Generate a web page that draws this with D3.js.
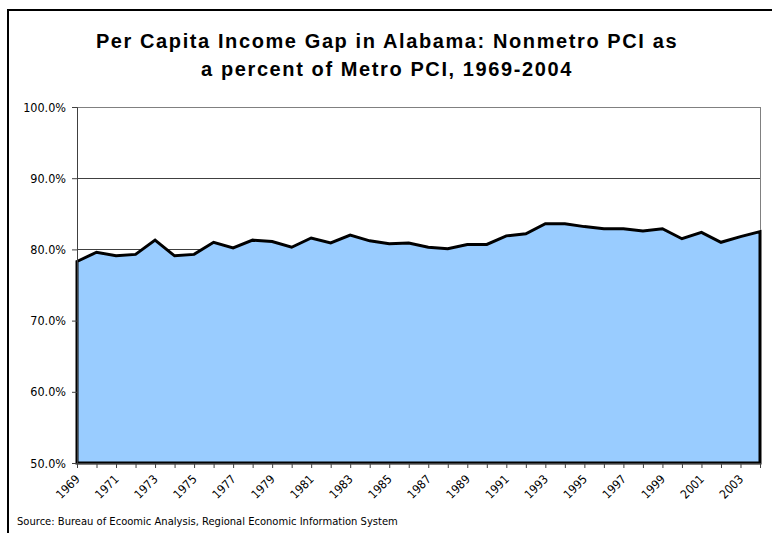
<!DOCTYPE html>
<html><head><meta charset="utf-8">
<script src="https://cdn.jsdelivr.net/npm/d3@7"></script>
<style>body{margin:0;background:#fff;} svg{display:block;}</style>
</head><body>
<svg id="c" width="772" height="533"></svg>
<script>
const years = d3.range(1969, 2005);
const values = [78.3,79.6,79.1,79.3,81.3,79.1,79.3,81.0,80.2,81.3,81.1,80.3,
81.6,80.9,82.0,81.2,80.8,80.9,80.3,80.1,80.7,80.7,81.9,82.2,
83.6,83.6,83.2,82.9,82.9,82.6,82.9,81.5,82.4,81.0,81.8,82.5];
const yTicks = [50,60,70,80,90,100];
const xLabelYears = years.filter((y,i)=>i%2===0);
const titleLines = ["Per Capita Income Gap in Alabama: Nonmetro PCI as","a percent of Metro PCI, 1969-2004"];
const sourceText = "Source: Bureau of Ecoomic Analysis, Regional Economic Information System";

const svg = d3.select("#c");
const L=77, R=760, T=107, B=463;
const x = d3.scalePoint().domain(years).range([L,R]);
const y = d3.scaleLinear().domain([50,100]).range([B,T]);
const tickFont = "Tahoma, 'DejaVu Sans Condensed', 'DejaVu Sans', sans-serif";

svg.append("rect").attr("x",8).attr("y",10).attr("width",780).attr("height",540)
  .attr("fill","#fff").attr("stroke","#000").attr("stroke-width",2);

svg.append("g").selectAll("text").data(titleLines).join("text")
  .attr("x",387).attr("y",(d,i)=>48+i*28).attr("text-anchor","middle")
  .attr("font-family","'Liberation Sans', Arial, sans-serif").attr("font-weight","bold")
  .attr("font-size",20).attr("letter-spacing",1.6).attr("fill","#000").text(d=>d);

// gridlines
svg.append("g").selectAll("line").data(yTicks.filter(v=>v>50&&v<100)).join("line")
  .attr("x1",L).attr("x2",R).attr("y1",d=>Math.round(y(d))+0.5).attr("y2",d=>Math.round(y(d))+0.5)
  .attr("stroke","#404040").attr("stroke-width",1);

// plot border
svg.append("rect").attr("x",L+0.5).attr("y",T+0.5).attr("width",R-L).attr("height",B-T)
  .attr("fill","none").attr("stroke","#808080").attr("stroke-width",1);

// area
const area = d3.area().x((d,i)=>x(years[i])).y0(y(50)).y1(d=>y(d));
svg.append("path").attr("d", area(values)+"Z")
  .attr("fill","#99CCFF").attr("stroke","#000").attr("stroke-width",3).attr("stroke-linejoin","miter");

// y axis
const ya = svg.append("g").attr("transform",`translate(${L},0)`)
  .call(d3.axisLeft(y).tickValues(yTicks).tickSize(5).tickPadding(6).tickFormat(d=>d.toFixed(1)+"%"));
ya.select(".domain").attr("stroke","#404040");
ya.selectAll(".tick line").attr("stroke","#404040");
ya.selectAll("text").attr("font-family",tickFont).attr("font-size",12.5).attr("fill","#000");

// x axis
const xa = svg.append("g").attr("transform",`translate(0,${B})`)
  .call(d3.axisBottom(x).tickValues(years).tickSize(5).tickFormat(d=>xLabelYears.includes(d)?String(d):""));
xa.select(".domain").attr("stroke","#404040");
xa.selectAll(".tick line").attr("stroke","#404040");
xa.selectAll("text").attr("font-family",tickFont).attr("font-size",12).attr("fill","#000")
  .attr("text-anchor","end").attr("dy",null).attr("y",0)
  .attr("transform","translate(3,17) rotate(-45)");

svg.append("text").attr("x",17).attr("y",525).attr("font-family",tickFont)
  .attr("font-size",11.1).attr("fill","#000").text(sourceText);
</script>
</body></html>
